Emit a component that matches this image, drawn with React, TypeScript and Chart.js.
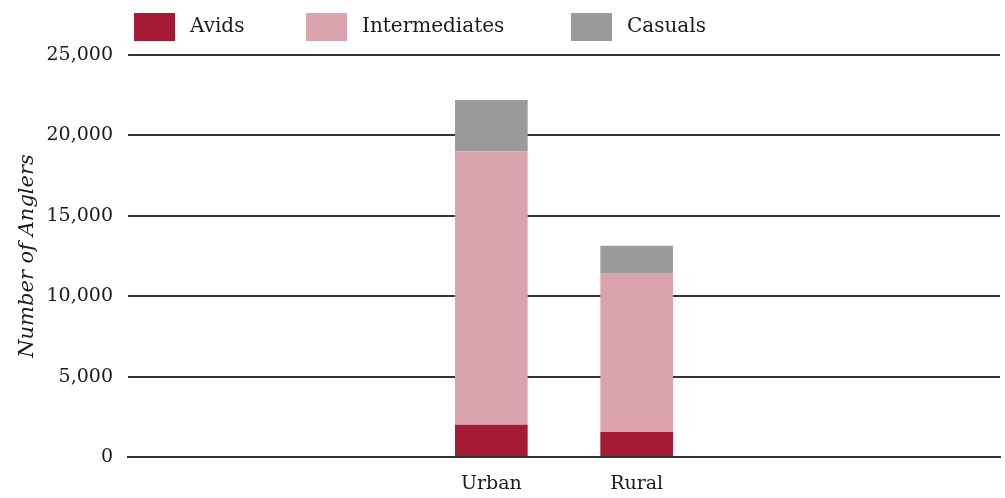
import React, { useEffect, useRef } from "react";
import { Chart, registerables } from "chart.js";

Chart.register(...registerables);

const categories = ["", "", "Urban", "Rural", "", ""];
const avids = [null, null, 2000, 1550, null, null];
const intermediates = [null, null, 17000, 9900, null, null];
const casuals = [null, null, 3200, 1680, null, null];
const yTicks = [0, 5000, 10000, 15000, 20000, 25000];

const FONT = "'DejaVu Serif', serif";
const TEXT = "#1a1a1a";

const legendPlugin = {
  id: "customLegend",
  afterDraw(chart: any) {
    const ctx = chart.ctx;
    const starts = [134, 306, 571];
    ctx.save();
    ctx.font = `20px ${FONT}`;
    ctx.textBaseline = "middle";
    ctx.textAlign = "left";
    chart.data.datasets.forEach((ds: any, i: number) => {
      const x = starts[i];
      ctx.fillStyle = ds.backgroundColor;
      ctx.fillRect(x, 13, 41, 28);
      ctx.fillStyle = TEXT;
      ctx.fillText(ds.label, x + 56, 27);
    });
    ctx.restore();
  },
};

export default function App() {
  const ref = useRef<HTMLCanvasElement | null>(null);
  useEffect(() => {
    document.body.style.margin = "0";
    document.body.style.overflow = "hidden";
    const chart = new Chart(ref.current as HTMLCanvasElement, {
      type: "bar",
      data: {
        labels: categories,
        datasets: [
          { label: "Avids", data: avids as any, backgroundColor: "#A51B35" },
          { label: "Intermediates", data: intermediates as any, backgroundColor: "#DBA3AD" },
          { label: "Casuals", data: casuals as any, backgroundColor: "#9B9B9B" },
        ],
      },
      options: {
        animation: false,
        responsive: true,
        maintainAspectRatio: false,
        layout: { padding: { top: 55, right: 5, bottom: 0, left: 0 } },
        datasets: { bar: { barPercentage: 0.5, categoryPercentage: 1 } },
        plugins: { legend: { display: false }, tooltip: { enabled: false } },
        scales: {
          x: {
            stacked: true,
            grid: { display: false },
            border: { display: true, color: "#333", width: 2 },
            afterFit: (scale: any) => {
              scale.height = 41;
            },
            ticks: { color: TEXT, font: { family: FONT, size: 19 }, padding: 8 },
          },
          y: {
            stacked: true,
            min: 0,
            max: 25000,
            afterBuildTicks: (scale: any) => {
              scale.ticks = yTicks.map((v) => ({ value: v }));
            },
            afterFit: (scale: any) => {
              scale.width = 128;
            },
            grid: { color: "#333", lineWidth: 2, drawTicks: false },
            border: { display: false },
            ticks: {
              color: TEXT,
              font: { family: FONT, size: 19 },
              padding: 15,
              callback: (v: any) => Number(v).toLocaleString("en-US"),
            },
            title: {
              display: true,
              text: "Number of Anglers",
              color: TEXT,
              font: { family: FONT, size: 21, style: "italic" },
              padding: { top: 15, bottom: 0 },
            },
          },
        },
      },
      plugins: [legendPlugin],
    });
    return () => chart.destroy();
  }, []);
  return (
    <div style={{ position: "relative", width: 1005, height: 498 }}>
      <canvas ref={ref} />
    </div>
  );
}
